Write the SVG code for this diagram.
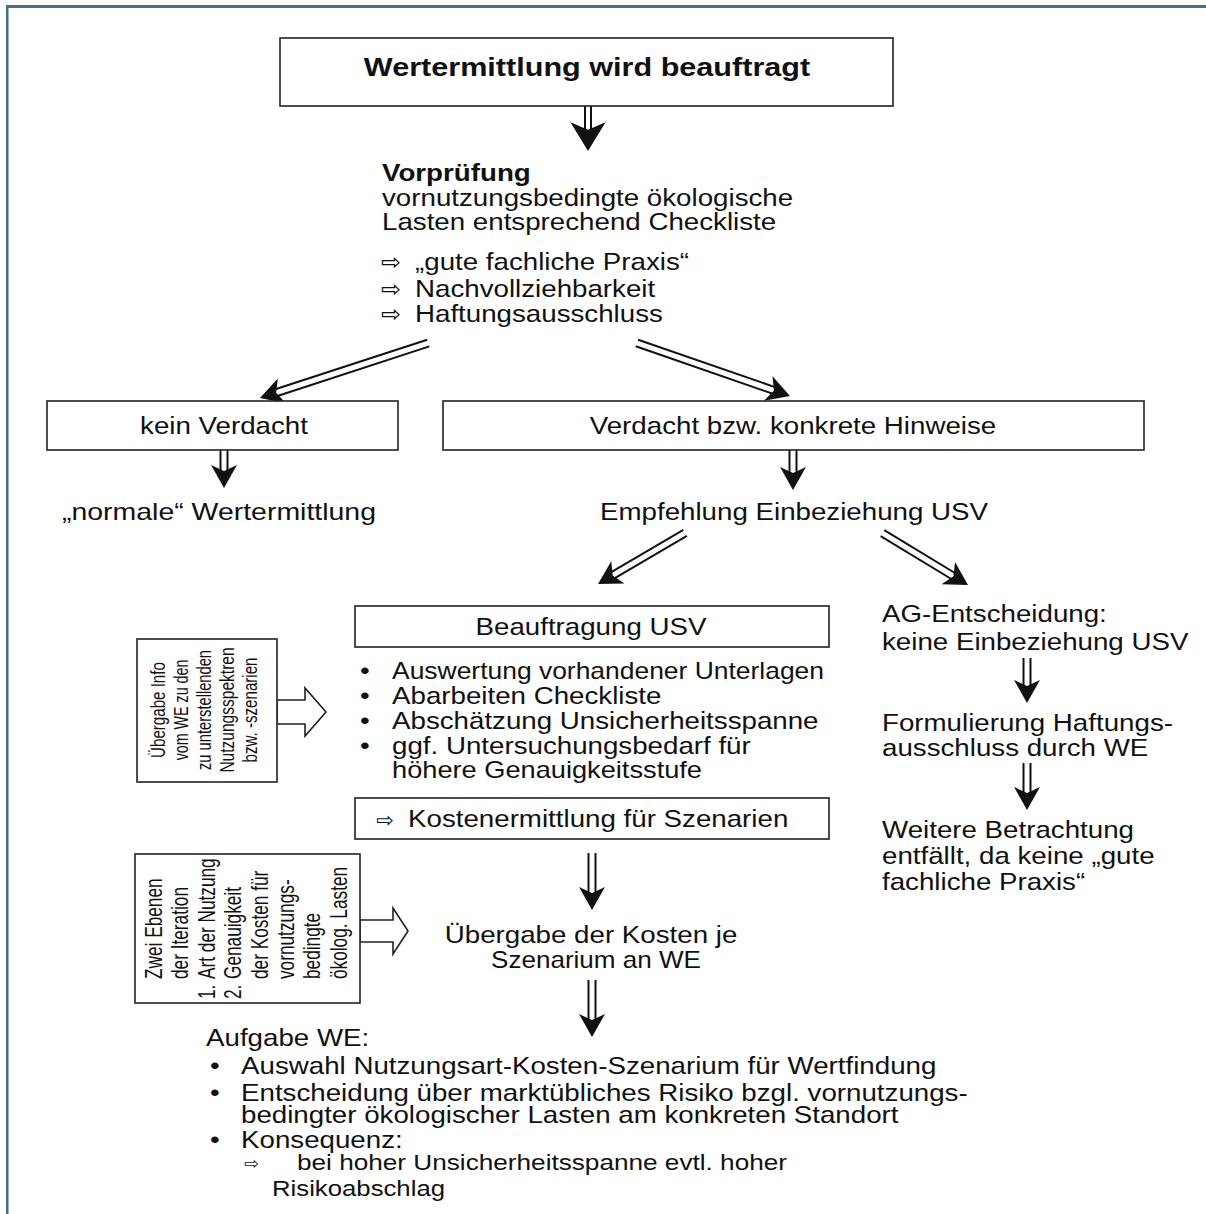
<svg xmlns="http://www.w3.org/2000/svg" xmlns:xlink="http://www.w3.org/1999/xlink" width="1206" height="1214" viewBox="0 0 1206 1214">
<style>
text{font-family:"Liberation Sans",Arial,sans-serif;font-size:24px;fill:#111}
.b{font-weight:bold}
.sym{font-family:"DejaVu Sans",sans-serif;font-size:23px}
.rot1{font-size:21px}
.rot2{font-size:23px}
.sm{font-size:22px}
.box{fill:#fff;stroke:#222;stroke-width:1.6}
.sh{stroke:#111;stroke-width:2;fill:none}
.hd{fill:#111}
.blk{fill:#fff;stroke:#222;stroke-width:1.6;stroke-linejoin:miter}
</style>
<defs>
<path id="head" d="M0,0 L-23,-13 L-17,0 L-23,13 Z"/>
</defs>
<rect width="1206" height="1214" fill="#fff"/>
<rect x="6" y="5" width="1200" height="3" fill="#436f87"/>
<rect x="6" y="5" width="2.5" height="1209" fill="#436f87"/>

<g id="connectors">
  <g transform="translate(588,151) rotate(90)">
    <line class="sh" x1="-45" y1="-3" x2="-18" y2="-3"/><line class="sh" x1="-45" y1="3" x2="-18" y2="3"/>
    <use href="#head" class="hd" transform="scale(1.25,1.35)"/>
  </g>
  <g transform="translate(260,398) rotate(161.9)">
    <line class="sh" x1="-177" y1="-3.5" x2="-14" y2="-3.5"/><line class="sh" x1="-177" y1="3.5" x2="-14" y2="3.5"/>
    <use href="#head" class="hd"/>
  </g>
  <g transform="translate(790,396) rotate(19.1)">
    <line class="sh" x1="-162" y1="-3.5" x2="-14" y2="-3.5"/><line class="sh" x1="-162" y1="3.5" x2="-14" y2="3.5"/>
    <use href="#head" class="hd"/>
  </g>
  <g transform="translate(224,488) rotate(90)">
    <line class="sh" x1="-38" y1="-3.5" x2="-14" y2="-3.5"/><line class="sh" x1="-38" y1="3.5" x2="-14" y2="3.5"/>
    <use href="#head" class="hd"/>
  </g>
  <g transform="translate(793,490) rotate(90)">
    <line class="sh" x1="-40" y1="-3.5" x2="-14" y2="-3.5"/><line class="sh" x1="-40" y1="3.5" x2="-14" y2="3.5"/>
    <use href="#head" class="hd"/>
  </g>
  <g transform="translate(598,584) rotate(149.6)">
    <line class="sh" x1="-101" y1="-3.5" x2="-14" y2="-3.5"/><line class="sh" x1="-101" y1="3.5" x2="-14" y2="3.5"/>
    <use href="#head" class="hd"/>
  </g>
  <g transform="translate(968,585) rotate(31.2)">
    <line class="sh" x1="-100" y1="-3.5" x2="-14" y2="-3.5"/><line class="sh" x1="-100" y1="3.5" x2="-14" y2="3.5"/>
    <use href="#head" class="hd"/>
  </g>
  <g transform="translate(592,910) rotate(90)">
    <line class="sh" x1="-57" y1="-3.5" x2="-14" y2="-3.5"/><line class="sh" x1="-57" y1="3.5" x2="-14" y2="3.5"/>
    <use href="#head" class="hd"/>
  </g>
  <g transform="translate(592,1037) rotate(90)">
    <line class="sh" x1="-57" y1="-3.5" x2="-14" y2="-3.5"/><line class="sh" x1="-57" y1="3.5" x2="-14" y2="3.5"/>
    <use href="#head" class="hd"/>
  </g>
  <g transform="translate(1027,703) rotate(90)">
    <line class="sh" x1="-45" y1="-3.5" x2="-14" y2="-3.5"/><line class="sh" x1="-45" y1="3.5" x2="-14" y2="3.5"/>
    <use href="#head" class="hd"/>
  </g>
  <g transform="translate(1027,810) rotate(90)">
    <line class="sh" x1="-47" y1="-3.5" x2="-14" y2="-3.5"/><line class="sh" x1="-47" y1="3.5" x2="-14" y2="3.5"/>
    <use href="#head" class="hd"/>
  </g>
  <polygon class="blk" points="277,700 305,700 305,688 326,712 305,736 305,724 277,724"/>
  <polygon class="blk" points="360,920 393,920 393,908 408,931 393,954 393,942 360,942"/>
</g>

<g id="n-start">
  <rect class="box" x="280" y="38" width="613" height="68"/>
  <text class="b" style="font-size:26.5px" text-anchor="middle" transform="matrix(1.155 0 0 1 587 76)">Wertermittlung wird beauftragt</text>
</g>

<g id="n-vorpruefung">
  <text class="b" transform="matrix(1.155 0 0 1 382 181)">Vorprüfung</text>
  <text transform="matrix(1.155 0 0 1 382 206)">vornutzungsbedingte ökologische</text>
  <text transform="matrix(1.155 0 0 1 382 230)">Lasten entsprechend Checkliste</text>
  <text class="sym" transform="matrix(1.05 0 0 1 381 270)">⇨</text>
  <text transform="matrix(1.155 0 0 1 415 270)">„gute fachliche Praxis“</text>
  <text class="sym" transform="matrix(1.05 0 0 1 381 297)">⇨</text>
  <text transform="matrix(1.155 0 0 1 415 297)">Nachvollziehbarkeit</text>
  <text class="sym" transform="matrix(1.05 0 0 1 381 322)">⇨</text>
  <text transform="matrix(1.155 0 0 1 415 322)">Haftungsausschluss</text>
</g>

<g id="n-kein-verdacht">
  <rect class="box" x="47" y="401" width="351" height="49"/>
  <text text-anchor="middle" transform="matrix(1.155 0 0 1 224 434)">kein Verdacht</text>
</g>

<g id="n-verdacht">
  <rect class="box" x="443" y="401" width="701" height="49"/>
  <text text-anchor="middle" transform="matrix(1.155 0 0 1 793 434)">Verdacht bzw. konkrete Hinweise</text>
</g>

<g id="n-normale">
  <text x="62" y="520" textLength="314" lengthAdjust="spacingAndGlyphs">„normale“ Wertermittlung</text>
</g>

<g id="n-empfehlung">
  <text text-anchor="middle" transform="matrix(1.155 0 0 1 794 520)">Empfehlung Einbeziehung USV</text>
</g>

<g id="n-beauftragung">
  <rect class="box" x="355" y="606" width="474" height="41"/>
  <text text-anchor="middle" transform="matrix(1.155 0 0 1 591 635)">Beauftragung USV</text>
  <text transform="matrix(1.155 0 0 1 360 679)">•</text>
  <text x="392" y="679" textLength="432" lengthAdjust="spacingAndGlyphs">Auswertung vorhandener Unterlagen</text>
  <text transform="matrix(1.155 0 0 1 360 704)">•</text>
  <text transform="matrix(1.155 0 0 1 392 704)">Abarbeiten Checkliste</text>
  <text transform="matrix(1.155 0 0 1 360 729)">•</text>
  <text transform="matrix(1.155 0 0 1 392 729)">Abschätzung Unsicherheitsspanne</text>
  <text transform="matrix(1.155 0 0 1 360 754)">•</text>
  <text transform="matrix(1.155 0 0 1 392 754)">ggf. Untersuchungsbedarf für</text>
  <text x="392" y="778" textLength="310" lengthAdjust="spacingAndGlyphs">höhere Genauigkeitsstufe</text>
</g>

<g id="n-kosten">
  <rect class="box" x="355" y="798" width="474" height="41"/>
  <text class="sym" style="font-size:20px" transform="matrix(1.05 0 0 1 376 827)">⇨</text>
  <text transform="matrix(1.155 0 0 1 408 827)">Kostenermittlung für Szenarien</text>
</g>

<g id="n-ag">
  <text transform="matrix(1.155 0 0 1 882 622)">AG-Entscheidung:</text>
  <text transform="matrix(1.155 0 0 1 882 650)">keine Einbeziehung USV</text>
</g>

<g id="n-formulierung">
  <text transform="matrix(1.155 0 0 1 882 731)">Formulierung Haftungs-</text>
  <text transform="matrix(1.155 0 0 1 882 756)">ausschluss durch WE</text>
</g>

<g id="n-weitere">
  <text transform="matrix(1.155 0 0 1 882 838)">Weitere Betrachtung</text>
  <text transform="matrix(1.155 0 0 1 882 864)">entfällt, da keine „gute</text>
  <text transform="matrix(1.155 0 0 1 882 890)">fachliche Praxis“</text>
</g>

<g id="n-info">
  <rect class="box" x="137" y="639" width="140" height="143"/>
  <g text-anchor="middle">
    <text class="rot1" transform="translate(165,710) rotate(-90) scale(0.72,1)">Übergabe Info</text>
    <text class="rot1" transform="translate(188,710) rotate(-90) scale(0.68,1)">vom WE zu den</text>
    <text class="rot1" transform="translate(211,710) rotate(-90) scale(0.7,1)">zu unterstellenden</text>
    <text class="rot1" transform="translate(234,710) rotate(-90) scale(0.74,1)">Nutzungsspektren</text>
    <text class="rot1" transform="translate(257,710) rotate(-90) scale(0.72,1)">bzw. -szenarien</text>
  </g>
</g>

<g id="n-iteration">
  <rect class="box" x="135" y="854" width="225" height="149"/>
  <text class="rot2" transform="translate(162,979) rotate(-90) scale(0.75,1)">Zwei Ebenen</text>
  <text class="rot2" transform="translate(188,979) rotate(-90) scale(0.75,1)">der Iteration</text>
  <text class="rot2" transform="translate(215,999) rotate(-90) scale(0.75,1)">1.</text>
  <text class="rot2" transform="translate(215,979) rotate(-90) scale(0.75,1)">Art der Nutzung</text>
  <text class="rot2" transform="translate(241,999) rotate(-90) scale(0.75,1)">2.</text>
  <text class="rot2" transform="translate(241,979) rotate(-90) scale(0.75,1)">Genauigkeit</text>
  <text class="rot2" transform="translate(268,979) rotate(-90) scale(0.75,1)">der Kosten für</text>
  <text class="rot2" transform="translate(294,979) rotate(-90) scale(0.75,1)">vornutzungs-</text>
  <text class="rot2" transform="translate(320,979) rotate(-90) scale(0.75,1)">bedingte</text>
  <text class="rot2" transform="translate(347,979) rotate(-90) scale(0.75,1)">ökolog. Lasten</text>
</g>

<g id="n-uebergabe">
  <text text-anchor="middle" transform="matrix(1.155 0 0 1 591 943)">Übergabe der Kosten je</text>
  <text x="596" y="968" text-anchor="middle" textLength="210" lengthAdjust="spacingAndGlyphs">Szenarium an WE</text>
</g>

<g id="n-aufgabe">
  <text transform="matrix(1.155 0 0 1 206 1046)">Aufgabe WE:</text>
  <text transform="matrix(1.155 0 0 1 210 1074)">•</text>
  <text transform="matrix(1.155 0 0 1 241 1074)">Auswahl Nutzungsart-Kosten-Szenarium für Wertfindung</text>
  <text transform="matrix(1.155 0 0 1 210 1101)">•</text>
  <text transform="matrix(1.155 0 0 1 241 1101)">Entscheidung über marktübliches Risiko bzgl. vornutzungs-</text>
  <text transform="matrix(1.155 0 0 1 241 1123)">bedingter ökologischer Lasten am konkreten Standort</text>
  <text transform="matrix(1.155 0 0 1 210 1148)">•</text>
  <text transform="matrix(1.155 0 0 1 241 1148)">Konsequenz:</text>
  <text class="sym" style="font-size:17px" transform="matrix(1.05 0 0 1 244 1169)">⇨</text>
  <text class="sm" x="297" y="1170" textLength="490" lengthAdjust="spacingAndGlyphs">bei hoher Unsicherheitsspanne evtl. hoher</text>
  <text class="sm" x="272" y="1196" textLength="173" lengthAdjust="spacingAndGlyphs">Risikoabschlag</text>
</g>
</svg>
